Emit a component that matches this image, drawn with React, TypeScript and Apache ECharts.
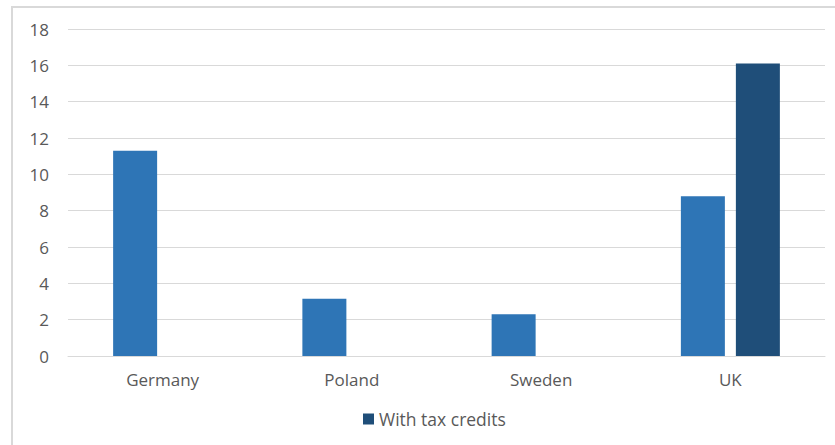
import React, { useEffect, useRef } from "react";
import * as echarts from "echarts";

const categories = ["Germany", "Poland", "Sweden", "UK"];
const seriesWithout = [11.3, 3.15, 2.3, 8.8];
const seriesWith = [null, null, null, 16.1];
const yTicks = { min: 0, max: 18, interval: 2 };

export default function App() {
  const ref = useRef<HTMLDivElement>(null);
  useEffect(() => {
    if (!ref.current) return;
    const chart = echarts.init(ref.current, null, { renderer: "svg" });
    const font = "'Open Sans', 'DejaVu Sans', sans-serif";
    chart.setOption({
      animation: false,
      backgroundColor: "#ffffff",
      textStyle: { fontFamily: font },
      graphic: [
        {
          type: "rect",
          shape: { x: 12, y: 7, width: 900, height: 500 },
          style: { fill: "none", stroke: "#d9d9d9", lineWidth: 2 },
          silent: true,
        },
      ],
      grid: { left: 68, right: 10, top: 29, bottom: 89, containLabel: false },
      legend: {
        data: ["With tax credits"],
        bottom: 12,
        left: 358,
        itemWidth: 11,
        itemHeight: 11,
        itemGap: 6,
        icon: "rect",
        textStyle: { color: "#595959", fontSize: 17.5, fontFamily: font },
      },
      xAxis: {
        type: "category",
        data: categories,
        axisLine: { lineStyle: { color: "#d9d9d9", width: 1 } },
        axisTick: { show: false },
        axisLabel: { color: "#595959", fontSize: 17, margin: 15, fontFamily: font },
      },
      yAxis: {
        type: "value",
        min: yTicks.min,
        max: yTicks.max,
        interval: yTicks.interval,
        axisLine: { show: false },
        axisTick: { show: false },
        axisLabel: { color: "#595959", fontSize: 17, margin: 19, fontFamily: font },
        splitLine: { lineStyle: { color: "#d9d9d9", width: 1 } },
      },
      series: [
        {
          name: "Without tax credits",
          type: "bar",
          data: seriesWithout,
          barWidth: 44,
          barGap: "25%",
          itemStyle: { color: "#2E75B6" },
        },
        {
          name: "With tax credits",
          type: "bar",
          data: seriesWith,
          barWidth: 44,
          barGap: "25%",
          itemStyle: { color: "#1F4E79" },
        },
      ],
    });
    return () => chart.dispose();
  }, []);
  return (
    <div
      ref={ref}
      style={{ position: "fixed", left: 0, top: 0, width: 835, height: 445 }}
    />
  );
}
